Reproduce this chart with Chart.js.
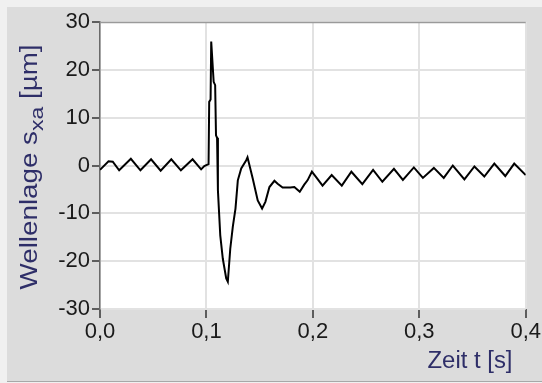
<!DOCTYPE html>
<html>
<head>
<meta charset="utf-8">
<script src="https://cdn.jsdelivr.net/npm/chart.js@4"></script>
<style>
  html, body { margin: 0; padding: 0; background: #f0f0f0; }
  #wrap { width: 542px; height: 383px; position: relative; }
</style>
</head>
<body>
<div id="wrap"><canvas id="chart" width="542" height="383"></canvas></div>
<script>
// --- Daten ---
const zeit = [
  0.000, 0.008, 0.012, 0.018, 0.029, 0.038, 0.048, 0.057, 0.067, 0.076,
  0.087, 0.095, 0.098, 0.1020, 0.1026, 0.1039, 0.1045, 0.1068, 0.1082, 0.1090,
  0.1100, 0.1108, 0.1130, 0.1154, 0.1186, 0.1201, 0.1224, 0.1248, 0.1273, 0.1295,
  0.1327, 0.1374, 0.1386, 0.1435, 0.1482, 0.1523, 0.1554, 0.1592, 0.1639, 0.1669,
  0.1716, 0.1788, 0.1826, 0.1877, 0.1919, 0.1950, 0.1991, 0.2029, 0.2091, 0.2177,
  0.2272, 0.2362, 0.2465, 0.2566, 0.2653, 0.2762, 0.2846, 0.2949, 0.3034, 0.3137,
  0.3230, 0.3315, 0.3424, 0.3518, 0.3611, 0.3705, 0.3808, 0.3892, 0.4000
];
const wellenlage = [
  -0.9, 0.9, 0.8, -1.0, 1.4, -1.0, 1.3, -1.1, 1.3, -1.0,
  1.3, -0.8, -0.1, 0.3, 13.3, 13.8, 25.9, 17.5, 16.8, 6.3,
  5.8, -5.2, -14.6, -19.5, -23.6, -24.3, -17.4, -12.8, -9.0, -3.1,
  -0.6, 1.1, 1.7, -2.7, -7.3, -9.0, -7.6, -4.5, -3.2, -3.8,
  -4.6, -4.6, -4.5, -5.5, -4.0, -3.1, -1.3, -2.4, -4.2, -2.0,
  -4.2, -1.3, -3.9, -0.9, -3.4, -0.7, -3.0, -0.4, -2.6, -0.5,
  -2.6, 0.0, -2.9, -0.2, -2.3, 0.4, -2.2, 0.4, -2.0
];
const xTicks = [0, 0.1, 0.2, 0.3, 0.4];
const yTicks = [-30, -20, -10, 0, 10, 20, 30];

const FONT = '"Liberation Sans", Arial, sans-serif';
const NAVY = '#2e2e68';

// Text in gegebener Länge zeichnen (Segmente mit optionalem Versatz)
function drawStretched(ctx, parts, length) {
  let total = 0;
  parts.forEach(p => { ctx.font = p.size + 'px ' + FONT; p.w = ctx.measureText(p.text).width; total += p.w; });
  const k = length / total;
  ctx.scale(k, 1);
  let x = -total / 2;
  parts.forEach(p => {
    ctx.font = p.size + 'px ' + FONT;
    ctx.fillText(p.text, x, p.dy || 0);
    x += p.w;
  });
}

// Hintergrund, Rahmen und Achsentitel
const panelPlugin = {
  id: 'panel',
  beforeDraw(chart) {
    const { ctx, chartArea: a } = chart;
    ctx.save();
    ctx.fillStyle = '#f0f0f0';
    ctx.fillRect(0, 0, chart.width, chart.height);
    ctx.fillStyle = '#dcdcdc';
    ctx.fillRect(7, 7, chart.width - 7, chart.height - 9);
    ctx.fillStyle = '#a8a8a8';
    ctx.fillRect(7, chart.height - 2, chart.width - 7, 1);
    ctx.fillStyle = '#ffffff';
    ctx.fillRect(a.left, a.top, a.right - a.left, a.bottom - a.top);
    ctx.restore();
  },
  afterDraw(chart) {
    const { ctx, chartArea: a } = chart;
    ctx.save();
    ctx.strokeStyle = '#9a9a9a';
    ctx.lineWidth = 1.5;
    ctx.beginPath();
    ctx.moveTo(a.left, a.top + 0.5);
    ctx.lineTo(a.right, a.top + 0.5);
    ctx.stroke();
    ctx.restore();

    // y-Titel mit Index
    ctx.save();
    ctx.fillStyle = NAVY;
    ctx.textBaseline = 'alphabetic';
    ctx.translate(37, 167);
    ctx.rotate(-Math.PI / 2);
    drawStretched(ctx, [
      { text: 'Wellenlage s', size: 23 },
      { text: 'xa', size: 19, dy: 6 },
      { text: ' [µm]', size: 23 }
    ], 245);
    ctx.restore();

    // x-Titel
    ctx.save();
    ctx.fillStyle = NAVY;
    ctx.textBaseline = 'middle';
    ctx.translate(470, 362);
    drawStretched(ctx, [{ text: 'Zeit t [s]', size: 23 }], 85);
    ctx.restore();
  }
};

new Chart(document.getElementById('chart'), {
  type: 'line',
  data: {
    datasets: [{
      data: zeit.map((t, i) => ({ x: t, y: wellenlage[i] })),
      borderColor: '#000000',
      borderWidth: 2,
      pointRadius: 0,
      tension: 0,
      fill: false
    }]
  },
  options: {
    responsive: false,
    animation: false,
    events: [],
    layout: { padding: { top: 22, right: 15, left: 0, bottom: 0 } },
    plugins: { legend: { display: false }, tooltip: { enabled: false } },
    scales: {
      x: {
        type: 'linear',
        min: 0, max: 0.4,
        afterFit: s => { s.height = 74; },
        afterBuildTicks: s => { s.ticks = xTicks.map(v => ({ value: v })); },
        grid: { color: '#e2e2e2', lineWidth: 2, tickColor: '#333', tickLength: 9, tickWidth: 1.5 },
        border: { display: false },
        ticks: {
          color: '#1a1a1a',
          padding: 1,
          maxRotation: 0,
          font: { family: FONT, size: 22 },
          callback: v => v.toFixed(1).replace('.', ',')
        }
      },
      y: {
        min: -30, max: 30,
        afterFit: s => { s.width = 100; },
        afterBuildTicks: s => { s.ticks = yTicks.map(v => ({ value: v })); },
        grid: { color: '#e2e2e2', lineWidth: 2, tickColor: '#333', tickLength: 8, tickWidth: 1.5 },
        border: { display: true, color: '#6a6a6a', width: 1.5 },
        ticks: {
          color: '#1a1a1a',
          padding: 2,
          font: { family: FONT, size: 22 },
          callback: v => String(v)
        }
      }
    }
  },
  plugins: [panelPlugin]
});
</script>
</body>
</html>
